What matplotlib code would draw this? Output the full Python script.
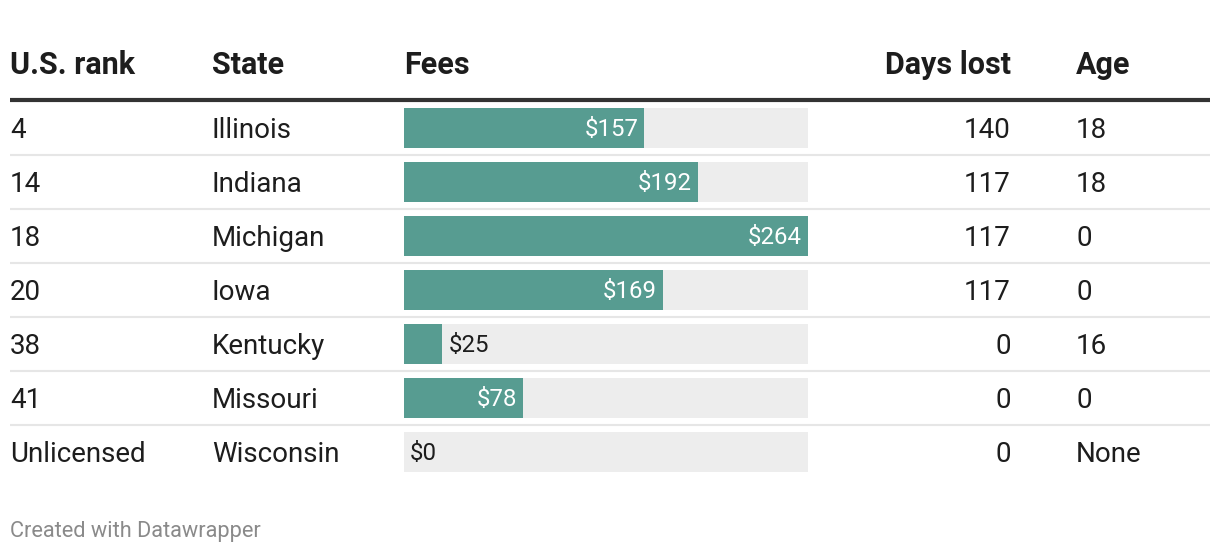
import matplotlib.pyplot as plt
import matplotlib.transforms as mtransforms

plt.rcParams['font.family'] = ['Roboto', 'DejaVu Sans']

# Datos de la tabla
rangos = ["4", "14", "18", "20", "38", "41", "Unlicensed"]
estados = ["Illinois", "Indiana", "Michigan", "Iowa", "Kentucky", "Missouri", "Wisconsin"]
tarifas = [157, 192, 264, 169, 25, 78, 0]
dias_perdidos = [140, 117, 117, 117, 0, 0, 0]
edades = ["18", "18", "0", "0", "16", "0", "None"]
encabezados = ["U.S. rank", "State", "Fees", "Days lost", "Age"]

W, H = 1220, 554
verde = "#579c91"
gris_fondo = "#ededed"
texto = "#1d1d1d"

fig = plt.figure(figsize=(W / 100, H / 100), dpi=100)
fig.patch.set_facecolor("white")

def px(x):
    return x / W

n = len(estados)
top, bottom = 101, 101 + 54 * n
ax = fig.add_axes([px(404), 1 - bottom / H, px(808 - 404), (bottom - top) / H])
ax.set_xlim(0, max(tarifas))
ax.set_ylim(n - 0.5, -0.5)
ax.axis("off")

filas = list(range(n))
ax.barh(filas, [max(tarifas)] * n, height=40 / 54, color=gris_fondo, left=0)
ax.barh(filas, tarifas, height=40 / 54, color=verde)

for i, v in enumerate(tarifas):
    etiqueta = f"${v}"
    if v > 60:
        ax.annotate(etiqueta, (v, i), xytext=(-6, -1), textcoords="offset pixels",
                    ha="right", va="center", color="white", fontsize=17.3)
    else:
        ax.annotate(etiqueta, (v, i), xytext=(6, -1), textcoords="offset pixels",
                    ha="left", va="center", color=texto, fontsize=17.3)

# Columnas de texto: x en pixeles de la figura, y en filas del eje
desplaz = 2 / 54
trans = mtransforms.blended_transform_factory(fig.transFigure, ax.transData)
for i in filas:
    y = i + desplaz
    fig.text(px(10), y, rangos[i], transform=trans, ha="left", va="center",
             fontsize=20, color=texto)
    fig.text(px(212), y, estados[i], transform=trans, ha="left", va="center",
             fontsize=20, color=texto)
    fig.text(px(1011), y, str(dias_perdidos[i]), transform=trans, ha="right",
             va="center", fontsize=20, color=texto)
    fig.text(px(1076), y, edades[i], transform=trans, ha="left", va="center",
             fontsize=20, color=texto)
    if i < n - 1:
        yl = 1 - (top + 54 * (i + 1)) / H
        fig.add_artist(plt.Line2D([px(10), px(1210)], [yl, yl], color="#e6e6e6",
                                  linewidth=1.5, solid_capstyle="butt",
                                  transform=fig.transFigure))

# Encabezados
y_enc = 1 - 65 / H
pos_enc = [(10, "left"), (212, "left"), (404, "left"), (1011, "right"), (1076, "left")]
for (x, alin), t in zip(pos_enc, encabezados):
    fig.text(px(x), y_enc, t, ha=alin, va="center", fontsize=22,
             fontweight="bold", color=texto)

y_linea = 1 - 99.5 / H
fig.add_artist(plt.Line2D([px(10), px(1210)], [y_linea, y_linea], color="#333333",
                          linewidth=3, solid_capstyle="butt",
                          transform=fig.transFigure))

fig.text(px(10), 1 - 531 / H, "Created with Datawrapper", ha="left", va="center",
         fontsize=15.7, color="#8a8a8a")

fig.savefig("out.png", dpi=100, facecolor="white")
